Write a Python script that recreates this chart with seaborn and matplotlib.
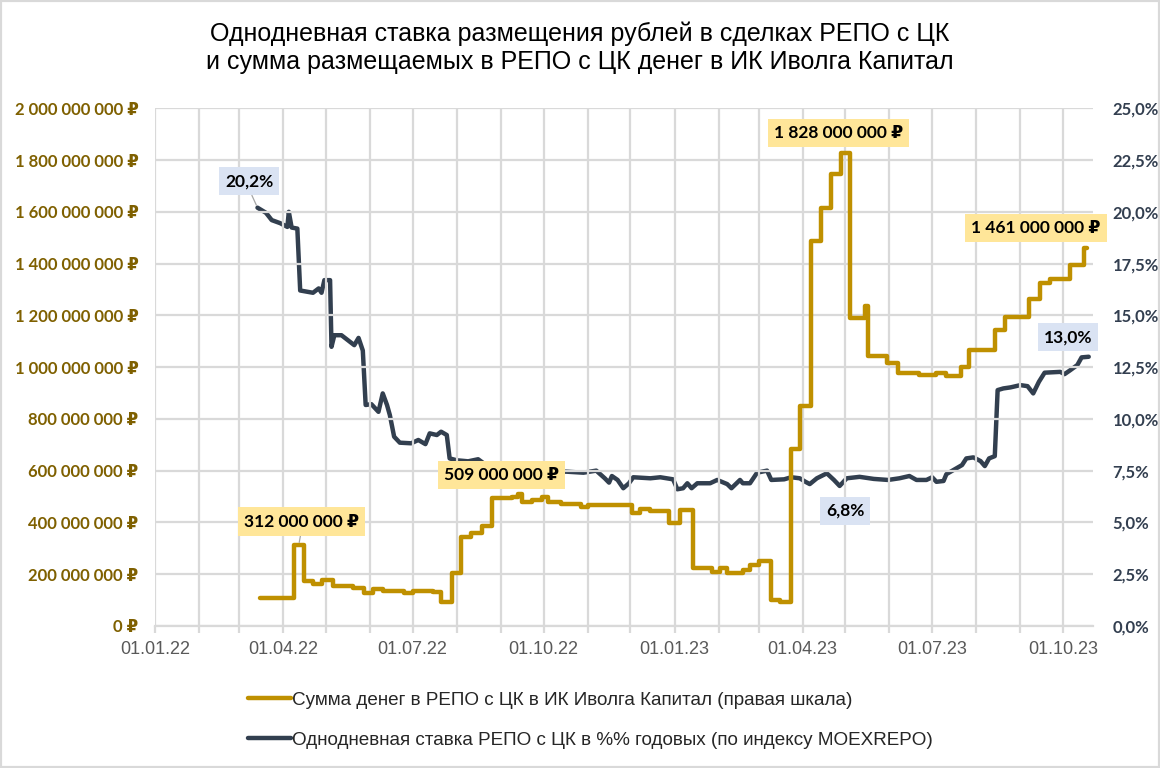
import pandas as pd
import matplotlib
matplotlib.use("Agg")
import matplotlib.pyplot as plt
import matplotlib.dates as mdates
import matplotlib.ticker as mticker
from matplotlib.patches import Rectangle
import seaborn as sns

# -----------------------
# Данные
# -----------------------
money_dates = [
    "2022-03-16", "2022-04-09", "2022-04-16", "2022-04-22", "2022-04-28", "2022-05-06",
    "2022-05-20", "2022-05-28", "2022-06-03", "2022-06-10", "2022-06-25", "2022-07-01",
    "2022-07-15", "2022-07-21", "2022-07-29", "2022-08-04", "2022-08-11", "2022-08-19",
    "2022-08-26", "2022-09-09", "2022-09-13", "2022-09-16", "2022-09-23", "2022-09-30",
    "2022-10-04", "2022-10-13", "2022-10-27", "2022-11-01", "2022-12-02", "2022-12-08",
    "2022-12-15", "2022-12-28", "2023-01-05", "2023-01-14", "2023-01-27", "2023-02-02",
    "2023-02-07", "2023-02-18", "2023-02-23", "2023-03-01", "2023-03-10", "2023-03-16",
    "2023-03-24", "2023-03-30", "2023-04-07", "2023-04-14", "2023-04-21", "2023-04-28",
    "2023-05-04", "2023-05-15", "2023-05-17", "2023-05-30", "2023-06-07", "2023-06-22",
    "2023-07-04", "2023-07-11", "2023-07-21", "2023-07-27", "2023-08-14", "2023-08-21",
    "2023-09-07", "2023-09-15", "2023-09-22", "2023-10-06", "2023-10-16", "2023-10-18",
]
# млн руб.
money_values = [
    108, 312, 175, 162, 176, 156,
    148, 127, 143, 135, 127, 136,
    131, 94, 206, 345, 359, 386,
    493, 498, 509, 478, 486, 497,
    479, 471, 461, 467, 437, 450,
    444, 399, 448, 223, 210, 224,
    203, 216, 235, 251, 100, 92,
    682, 849, 1488, 1613, 1748, 1828,
    1188, 1236, 1042, 1017, 976, 970,
    977, 965, 1001, 1066, 1143, 1194,
    1265, 1325, 1342, 1394, 1461, 1461,
]

rate_dates = [
    "2022-03-14", "2022-03-20", "2022-03-24", "2022-03-30", "2022-04-04", "2022-04-05",
    "2022-04-07", "2022-04-11", "2022-04-13", "2022-04-22", "2022-04-26", "2022-04-28",
    "2022-04-30", "2022-05-04", "2022-05-05", "2022-05-07", "2022-05-12", "2022-05-18",
    "2022-05-21", "2022-05-24", "2022-05-27", "2022-05-29", "2022-06-02", "2022-06-07",
    "2022-06-10", "2022-06-13", "2022-06-15", "2022-06-18", "2022-06-22", "2022-06-30",
    "2022-07-05", "2022-07-10", "2022-07-13", "2022-07-18", "2022-07-21", "2022-07-25",
    "2022-07-27", "2022-08-01", "2022-08-09", "2022-08-16", "2022-08-20", "2022-08-29",
    "2022-09-08", "2022-09-18", "2022-09-28", "2022-10-08", "2022-10-17", "2022-10-29",
    "2022-11-07", "2022-11-13", "2022-11-16", "2022-11-18", "2022-11-22", "2022-11-26",
    "2022-11-30", "2022-12-03", "2022-12-15", "2022-12-22", "2022-12-31", "2023-01-03",
    "2023-01-07", "2023-01-10", "2023-01-13", "2023-01-17", "2023-01-26", "2023-01-31",
    "2023-02-07", "2023-02-10", "2023-02-16", "2023-02-18", "2023-02-23", "2023-02-28",
    "2023-03-07", "2023-03-10", "2023-03-19", "2023-03-24", "2023-03-30", "2023-04-03",
    "2023-04-06", "2023-04-11", "2023-04-18", "2023-04-23", "2023-04-27", "2023-05-02",
    "2023-05-11", "2023-05-21", "2023-05-31", "2023-06-08", "2023-06-15", "2023-06-20",
    "2023-06-27", "2023-07-01", "2023-07-04", "2023-07-09", "2023-07-11", "2023-07-16",
    "2023-07-22", "2023-07-25", "2023-07-30", "2023-08-04", "2023-08-07", "2023-08-10",
    "2023-08-14", "2023-08-16", "2023-08-20", "2023-08-25", "2023-09-01", "2023-09-06",
    "2023-09-10", "2023-09-14", "2023-09-18", "2023-09-29", "2023-10-02", "2023-10-06",
    "2023-10-11", "2023-10-14", "2023-10-19",
]
# % годовых
rate_values = [
    20.2, 19.95, 19.6, 19.45, 19.27, 20.0,
    19.24, 19.19, 16.2, 16.09, 16.3, 16.09,
    16.7, 16.7, 13.48, 14.04, 14.04, 13.72,
    13.56, 13.91, 13.3, 10.67, 10.71, 10.34,
    11.23, 10.67, 10.18, 9.14, 8.85, 8.82,
    8.98, 8.78, 9.3, 9.22, 9.38, 9.22,
    8.09, 8.0, 7.95, 8.05, 7.85, 7.7,
    7.55, 7.45, 7.5, 7.45, 7.45, 7.4,
    7.5, 7.13, 6.92, 7.24, 7.05, 6.65,
    6.89, 7.18, 7.13, 7.18, 7.08, 6.6,
    6.65, 6.89, 6.65, 6.89, 6.89, 7.05,
    6.85, 6.65, 7.05, 6.89, 6.89, 7.4,
    7.5, 7.05, 7.08, 7.18, 7.13, 6.96,
    6.85, 7.13, 7.37, 7.05, 6.76, 7.13,
    7.2, 7.1, 7.05, 7.13, 7.24, 7.05,
    7.05, 7.18, 6.96, 7.0, 7.33, 7.53,
    7.77, 8.09, 8.14, 7.96, 7.72, 8.09,
    8.2, 11.39, 11.47, 11.52, 11.63, 11.58,
    11.23, 11.79, 12.23, 12.27, 12.16, 12.35,
    12.6, 12.97, 13.0,
]

# подписи: (дата, значение, текст, смещение в пунктах, выноска)
money_labels = [
    ("2022-04-12", 312, "312 000 000 ₽", (2, 17), True),
    ("2022-09-14", 509, "509 000 000 ₽", (-13, 14), False),
    ("2023-05-01", 1828, "1 828 000 000 ₽", (-5, 14), False),
    ("2023-10-17", 1461, "1 461 000 000 ₽", (-36, 14), False),
]
rate_labels = [
    ("2022-03-14", 20.2, "20,2%", (-6, 19), True),
    ("2023-04-27", 6.76, "6,8%", (4, -18), False),
    ("2023-10-19", 13.0, "13,0%", (-15, 14), False),
]

TITLE = ("Однодневная ставка размещения рублей в сделках РЕПО с ЦК\n"
         "и сумма размещаемых в РЕПО с ЦК денег в ИК Иволга Капитал")
MONEY_NAME = "Сумма денег в РЕПО с ЦК в ИК Иволга Капитал (правая шкала)"
RATE_NAME = "Однодневная ставка РЕПО с ЦК в %% годовых (по индексу MOEXREPO)"

GOLD = "#BF9000"
DARK = "#323F4F"
GRID = "#D9D9D9"
BOLD_FONT = ["Lato", "DejaVu Sans"]
NARROW_FONT = ["Liberation Sans Narrow", "Liberation Sans", "DejaVu Sans"]

# -----------------------
# DataFrame
# -----------------------
money_df = pd.DataFrame({"date": pd.to_datetime(money_dates),
                         "value": [v * 1e6 for v in money_values]})
rate_df = pd.DataFrame({"date": pd.to_datetime(rate_dates), "value": rate_values})

sns.set_theme(style="white")
plt.rcParams["font.family"] = NARROW_FONT

fig = plt.figure(figsize=(11.6, 7.68), dpi=100)
ax = fig.add_axes([155 / 1160, 0.185, (1093 - 155) / 1160, 0.674])
ax2 = ax.twinx()

sns.lineplot(data=rate_df, x="date", y="value", ax=ax2, color=DARK, lw=3.2,
             estimator=None, solid_joinstyle="round", label=RATE_NAME, legend=False)
sns.lineplot(data=money_df, x="date", y="value", ax=ax, color=GOLD, lw=3.2,
             estimator=None, drawstyle="steps-post", label=MONEY_NAME, legend=False)

# порядок слоёв: сумма денег поверх ставки
ax.set_zorder(ax2.get_zorder() + 1)
ax.patch.set_visible(False)

ax.set_xlim(pd.Timestamp("2022-01-01"), pd.Timestamp("2023-10-22"))
ax.set_ylim(0, 2e9)
ax2.set_ylim(0, 25)

ax.xaxis.set_major_locator(mdates.MonthLocator(bymonth=[1, 4, 7, 10]))
ax.xaxis.set_major_formatter(mdates.DateFormatter("%d.%m.%y"))
ax.xaxis.set_minor_locator(mdates.MonthLocator())
ax.yaxis.set_major_locator(mticker.MultipleLocator(2e8))
ax.yaxis.set_major_formatter(
    mticker.FuncFormatter(lambda v, p: f"{v:,.0f} ₽".replace(",", " ")))
ax2.yaxis.set_major_locator(mticker.MultipleLocator(2.5))
ax2.yaxis.set_major_formatter(
    mticker.FuncFormatter(lambda v, p: f"{v:.1f}%".replace(".", ",")))

ax.grid(True, which="both", axis="x", color=GRID, lw=1.6)
ax.grid(True, which="major", axis="y", color=GRID, lw=1.6)
ax2.grid(False)
for a in (ax, ax2):
    for s in a.spines.values():
        s.set_visible(False)
ax.spines["bottom"].set_visible(True)
ax.spines["bottom"].set_color(GRID)
ax.spines["bottom"].set_linewidth(1.6)

ax.tick_params(axis="x", which="both", bottom=True, length=5, width=1.6, color=GRID,
               labelsize=13, labelcolor="#595959", pad=6)
ax.tick_params(axis="y", left=False, pad=6)
ax2.tick_params(axis="y", right=False, pad=8)
for t in ax.get_yticklabels():
    t.set_family(BOLD_FONT)
    t.set_fontweight("bold")
    t.set_fontsize(12)
    t.set_color("#7F6000")
for t in ax2.get_yticklabels():
    t.set_family(BOLD_FONT)
    t.set_fontweight("bold")
    t.set_fontsize(12)
    t.set_color("#333F50")
ax.set_xlabel("")
ax.set_ylabel("")
ax2.set_ylabel("")


def put_label(coords, d, v, txt, off, leader, face):
    # все подписи рисуются на верхней оси, чтобы сетка не перекрывала текст
    arrow = None
    if leader:
        arrow = dict(arrowstyle="-", color="#A6A6A6", lw=0.9, shrinkA=0, shrinkB=2,
                     relpos=(0.5, 0.0))
    ax.annotate(txt, xy=(mdates.date2num(pd.Timestamp(d)), v), xycoords=coords,
                xytext=off, textcoords="offset points",
                ha="center", va="center", fontsize=12.5, fontweight="bold",
                family=BOLD_FONT, color="black", zorder=10,
                bbox=dict(boxstyle="square,pad=0.35", fc=face, ec="none"),
                arrowprops=arrow)


# подписи значений
for d, v, txt, off, leader in money_labels:
    put_label(ax.transData, d, v * 1e6, txt, off, leader, "#FFE699")
for d, v, txt, off, leader in rate_labels:
    put_label(ax2.transData, d, v, txt, off, leader, "#DAE3F3")

fig.text(0.5, 1 - 22 / 768, TITLE, ha="center", va="top", fontsize=18,
         linespacing=1.2, color="black")

handles = [ax.get_lines()[0], ax2.get_lines()[0]]
fig.legend(handles, [MONEY_NAME, RATE_NAME.replace("%%", "%%")], loc="upper left",
           bbox_to_anchor=(240 / 1160, 1 - 684 / 768), frameon=False, fontsize=13.6,
           handlelength=2.3, handletextpad=0.05, labelspacing=1.2, borderaxespad=0)

fig.add_artist(Rectangle((0, 0), 1, 1, transform=fig.transFigure, fill=False,
                         ec="#D9D9D9", lw=3))

fig.savefig("out.png", dpi=100, facecolor="white")
